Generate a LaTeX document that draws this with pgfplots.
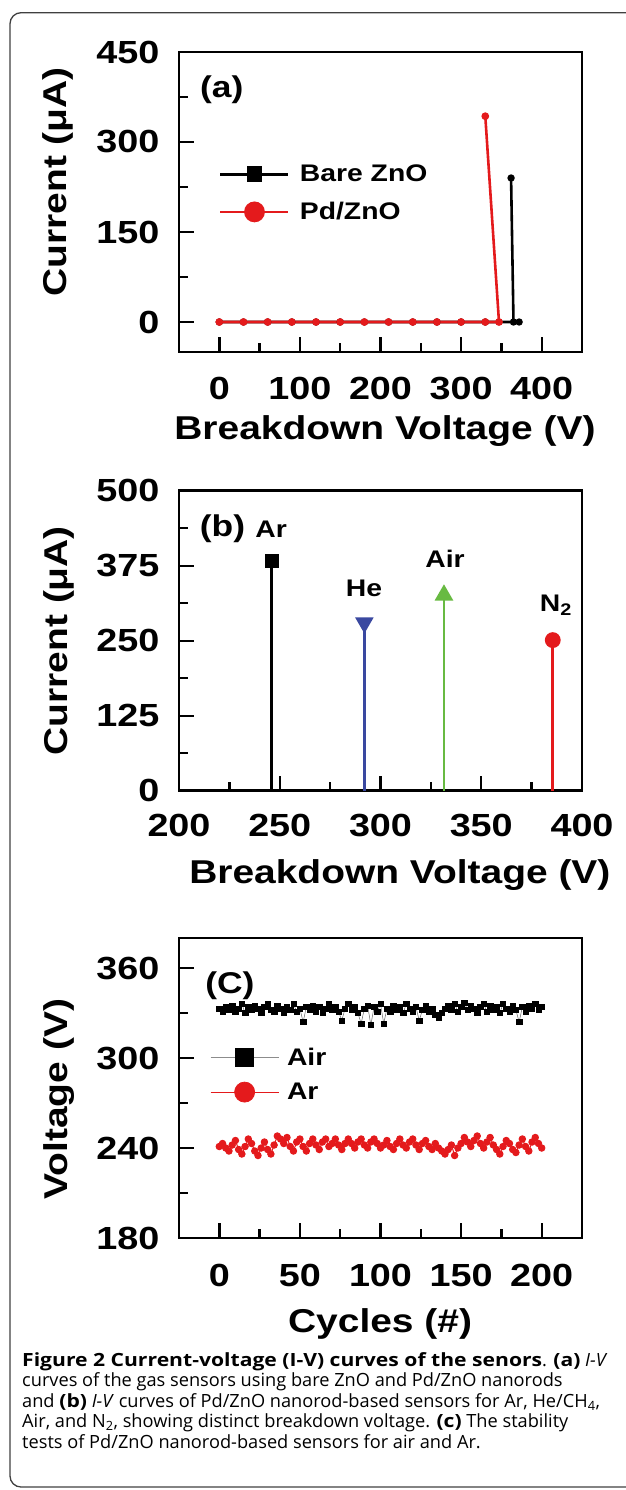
\documentclass[border=0pt]{standalone}
\usepackage{fontspec}
\setmainfont{Liberation Sans}[FakeStretch=1.18]
\newfontfamily\capfont{Open Sans}[BoldFeatures={FakeStretch=1.16}]
\usepackage{pgfplots}
\pgfplotsset{compat=1.18}
\definecolor{myred}{RGB}{228,26,28}
\definecolor{myblue}{RGB}{58,72,160}
\definecolor{mygreen}{RGB}{104,186,66}
\newcommand{\tfont}{\fontsize{32}{32}\selectfont\bfseries}
\newcommand{\lfont}{\fontsize{33}{33}\selectfont\bfseries}
\newcommand{\legfont}{\fontsize{24}{24}\selectfont\bfseries}
\newcommand{\pfont}{\fontsize{30}{30}\selectfont\bfseries}
\newcommand{\cfont}{\capfont\fontsize{18.2}{21}\selectfont}

\pgfplotsset{
  panel/.style={
    scale only axis, width=403pt, height=300pt, anchor=south west,
    axis line style={line width=2.8pt},
    tick style={line width=2.4pt, black},
    major tick length=15pt, minor tick length=9pt,
    xtick pos=bottom, ytick pos=left, tick align=inside,
    ticklabel style={font=\tfont},
    /pgf/number format/assume math mode=true,
    label style={font=\lfont},
    clip=false,
    legend cell align=left,
    legend image code/.code={
      \draw[mark repeat=2,mark phase=2,##1] plot coordinates {(0pt,0pt) (34pt,0pt) (68pt,0pt)};
    },
  }
}

\begin{document}
\begin{tikzpicture}[x=1pt,y=1pt]
\path[use as bounding box] (0,0) rectangle (625,-1490);
\draw[line width=1.3pt, black!75, rounded corners=11pt] (10,-12.7) rectangle (660,-1487);

% ---------------- (a)
\begin{axis}[panel, at={(179pt,-352pt)},
  xmin=-50, xmax=450, ymin=-50, ymax=450,
  xtick={0,100,200,300,400}, minor xtick={50,150,250,350},
  ytick={0,150,300,450}, minor ytick={75,225,375},
  xticklabel style={yshift=-22pt}, yticklabel style={xshift=-16pt},
  xlabel={Breakdown Voltage (V)}, ylabel={Current (μA)},
  xlabel style={at={(rel axis cs:0.511,-0.263)}, anchor=center},
  ylabel style={at={(rel axis cs:-0.300,0.567)}, anchor=center},
  legend style={at={(rel axis cs:0.099,0.63)}, anchor=north west, draw=none, fill=none,
    font=\legfont, row sep=15pt, column sep=8pt, inner sep=0pt},
]
\addlegendimage{black, line width=2.8pt, mark=square*, mark size=6.5pt}
\addlegendentry{Bare ZnO}
\addlegendimage{myred, line width=2.8pt, mark=*, mark size=9pt}
\addlegendentry{Pd/ZnO}
\addplot[black, line width=2.6pt, mark=*, mark size=2.3pt, forget plot] coordinates {
 (0,0) (30,0) (60,0) (90,0) (120,0) (150,0) (180,0) (210,0) (240,0) (270,0) (300,0) (330,0) (372,0) (365,0) (362,240)};
\addplot[myred, line width=2.6pt, mark=*, mark size=2.5pt, forget plot] coordinates {
 (0,0) (30,0) (60,0) (90,0) (120,0) (150,0) (180,0) (210,0) (240,0) (270,0) (300,0) (330,0) (347,0) (330,343)};
\node[font=\pfont] at (axis cs:3,387) {(a)};
\end{axis}

% ---------------- (b)
\begin{axis}[panel, at={(179pt,-790.7pt)},
  xmin=200, xmax=400, ymin=0, ymax=500,
  xtick={200,250,300,350,400}, minor xtick={225,275,325,375},
  ytick={0,125,250,375,500}, minor ytick={62.5,187.5,312.5,437.5},
  xticklabel style={yshift=-20pt}, yticklabel style={xshift=-16pt},
  xlabel={Breakdown Voltage (V)}, ylabel={Current (μA)},
  xlabel style={at={(rel axis cs:0.548,-0.28)}, anchor=center},
  ylabel style={at={(rel axis cs:-0.298,0.5)}, anchor=center},
]
\addplot[black, line width=2.8pt, mark=square*, mark size=5.5pt, mark indices={2}] coordinates {(246,0) (246,383)};
\addplot[myblue, line width=2.8pt, mark=triangle*, mark size=8pt, mark options={rotate=180}, mark indices={2}] coordinates {(292,0) (292,280)};
\addplot[mygreen, line width=2.8pt, mark=triangle*, mark size=8pt, mark indices={2}] coordinates {(331.5,0) (331.5,326)};
\addplot[myred, line width=2.8pt, mark=*, mark size=6.5pt, mark indices={2}] coordinates {(385.5,0) (385.5,251)};
\node[font=\pfont] at (axis cs:221.6,436) {(b)};
\node[font=\legfont] at (axis cs:245.7,435) {Ar};
\node[font=\legfont] at (axis cs:291.8,337) {He};
\node[font=\legfont] at (axis cs:332,386) {Air};
\node[font=\legfont] at (axis cs:387,309) {N\textsubscript{2}};
\end{axis}

% ---------------- (c)
\begin{axis}[panel, at={(179pt,-1238pt)},
  xmin=-25, xmax=225, ymin=180, ymax=380,
  xtick={0,50,100,150,200}, minor xtick={25,75,125,175},
  ytick={180,240,300,360}, minor ytick={210,270,330},
  xticklabel style={yshift=-23pt}, yticklabel style={xshift=-16pt},
  xlabel={Cycles (\#)}, ylabel={Voltage (V)},
  xlabel style={at={(rel axis cs:0.499,-0.287)}, anchor=center},
  ylabel style={at={(rel axis cs:-0.298,0.463)}, anchor=center},
  legend style={at={(rel axis cs:0.077,0.64)}, anchor=north west, draw=none, fill=none,
    font=\legfont, row sep=12pt, column sep=6pt, inner sep=0pt},
]
\addlegendimage{black!45, line width=0.8pt, mark=square*, mark size=9pt, mark options={black}}
\addlegendentry{Air}
\addlegendimage{myred, line width=0.8pt, mark=*, mark size=10pt}
\addlegendentry{Ar}
\addplot[black!60, line width=0.5pt, mark=square*, mark size=2.7pt, mark options={black}, forget plot] coordinates {
(0,333) (2,331) (4,334) (6,332) (8,335) (10,331) (12,333) (14,336) (16,330) (18,334)
(20,332) (22,335) (24,333) (26,330) (28,334) (30,336) (32,332) (34,331) (36,335) (38,333)
(40,330) (42,334) (44,332) (46,336) (48,331) (50,333) (52,324) (54,334) (56,332) (58,335)
(60,331) (62,334) (64,330) (66,333) (68,336) (70,332) (72,334) (74,331) (76,325) (78,333)
(80,336) (82,332) (84,334) (86,330) (88,323) (90,333) (92,335) (94,322) (96,334) (98,331)
(100,336) (102,323) (104,333) (106,331) (108,335) (110,332) (112,334) (114,330) (116,336) (118,333)
(120,331) (122,334) (124,325) (126,332) (128,335) (130,331) (132,333) (134,329) (136,327) (138,330)
(140,333) (142,335) (144,332) (146,336) (148,331) (150,334) (152,337) (154,332) (156,335) (158,333)
(160,330) (162,334) (164,336) (166,331) (168,335) (170,332) (172,334) (174,330) (176,336) (178,333)
(180,331) (182,335) (184,332) (186,324) (188,334) (190,331) (192,335) (194,333) (196,336) (198,332) (200,334)};
\addplot[myred, line width=1pt, mark=*, mark size=3.2pt, forget plot] coordinates {
(0,241) (2,243) (4,240) (6,238) (8,242) (10,245) (12,239) (14,236) (16,241) (18,246)
(20,243) (22,238) (24,235) (26,240) (28,244) (30,239) (32,236) (34,242) (36,248) (38,246)
(40,243) (42,247) (44,241) (46,238) (48,244) (50,246) (52,241) (54,238) (56,243) (58,246)
(60,242) (62,239) (64,244) (66,246) (68,241) (70,243) (72,246) (74,242) (76,239) (78,243)
(80,246) (82,243) (84,240) (86,244) (88,246) (90,242) (92,240) (94,244) (96,246) (98,243)
(100,240) (102,242) (104,245) (106,241) (108,239) (110,243) (112,246) (114,242) (116,240) (118,244)
(120,246) (122,242) (124,239) (126,243) (128,245) (130,241) (132,239) (134,243) (136,240) (138,238)
(140,236) (142,239) (144,242) (146,235) (148,240) (150,243) (152,247) (154,244) (156,241) (158,245)
(160,248) (162,243) (164,240) (166,244) (168,247) (170,242) (172,239) (174,236) (176,241) (178,245)
(180,243) (182,239) (184,237) (186,242) (188,246) (190,241) (192,238) (194,244) (196,247) (198,243) (200,240)};
\node[font=\pfont] at (axis cs:6.6,348) {(C)};
\end{axis}

% ---------------- caption
\node[anchor=base west, inner sep=0pt, font=\cfont] at (22,-1366) {\textbf{Figure 2 Current-voltage (I-V) curves of the senors}. \textbf{(a)} \textit{I-V}};
\node[anchor=base west, inner sep=0pt, font=\cfont] at (22,-1386.5) {curves of the gas sensors using bare ZnO and Pd/ZnO nanorods};
\node[anchor=base west, inner sep=0pt, font=\cfont] at (22,-1407) {and \textbf{(b)} \textit{I-V} curves of Pd/ZnO nanorod-based sensors for Ar, He/CH\textsubscript{4},};
\node[anchor=base west, inner sep=0pt, font=\cfont] at (22,-1427.5) {Air, and N\textsubscript{2}, showing distinct breakdown voltage. \textbf{(c)} The stability};
\node[anchor=base west, inner sep=0pt, font=\cfont] at (22,-1448) {tests of Pd/ZnO nanorod-based sensors for air and Ar.};
\end{tikzpicture}
\end{document}
